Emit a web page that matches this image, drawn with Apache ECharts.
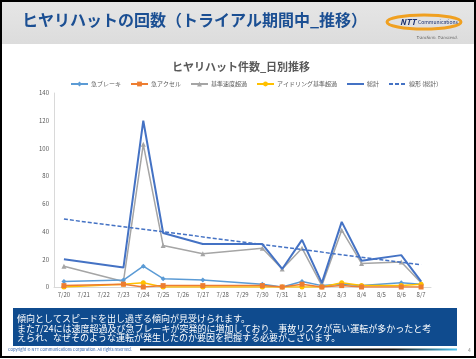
<!DOCTYPE html>
<html><head><meta charset="utf-8">
<script src="https://cdn.jsdelivr.net/npm/echarts@6/dist/echarts.min.js"></script>
<style>html,body{margin:0;padding:0;background:#fff}#c{width:476px;height:359px}</style>
</head><body><div id="c"></div>
<script>
const categories = ['7/20','7/21','7/22','7/23','7/24','7/25','7/26','7/27','7/28','7/29','7/30','7/31','8/1','8/2','8/3','8/4','8/5','8/6','8/7'];
const suddenBrake = [4,null,null,5,15,6,null,5,null,null,2,0,4,1,2,1,null,3,2];
const suddenAccel = [1,null,null,2,0,1,null,1,null,null,1,0,2,0,1,0,null,0,0];
const overSpeed   = [15,null,null,4,103,30,null,24,null,null,28,13,28,1,41,17,null,18,3];
const idling      = [0,null,null,2,3,0,null,0,null,null,0,0,0,0,3,1,null,1,2];
const total       = [20,null,null,14,120,39,null,31,null,null,31,13,34,3,47,19,null,23,4];
const trendTotal  = [49,null,null,null,null,null,null,null,null,null,null,null,null,null,null,null,null,null,16];
const yTicks = [0,20,40,60,80,100,120,140];
const seriesNames = ['急ブレーキ','急アクセル','基準速度超過','アイドリング基準超過','総計','線形 (総計)'];
const chartTitle = 'ヒヤリハット件数_日別推移';
const slideTitle = 'ヒヤリハットの回数（トライアル期間中_推移）';
const bodyLines = [
  '傾向としてスピードを出し過ぎる傾向が見受けられます。',
  'また7/24には速度超過及び急ブレーキが突発的に増加しており、事故リスクが高い運転が多かったと考',
  'えられ、なぜそのような運転が発生したのか要因を把握する必要がございます。'
];

const FONT = '"Noto Sans CJK JP","Noto Sans",sans-serif';
const chart = echarts.init(document.getElementById('c'), null, {renderer:'canvas'});

function lineSeries(name, data, color, symbol, width, z){
  return {name, type:'line', data, connectNulls:true, symbol, symbolSize:5, z:z||2,
    lineStyle:{color, width:width||1.5}, itemStyle:{color}, emphasis:{disabled:true}};
}

const graphics = [
  {type:'rect', shape:{x:1,y:1,width:474,height:43}, style:{fill:new echarts.graphic.LinearGradient(0,0,0,1,[{offset:0,color:'#e6e6e6'},{offset:1,color:'#dcdcdc'}])}, z:-1},
  {type:'text', left:22, top:12, style:{text:slideTitle, fill:'#1b4f93', font:'bold 16px '+FONT}},
  {type:'ellipse', shape:{cx:424,cy:22,rx:37,ry:7}, style:{fill:'none', stroke:'#f0a020', lineWidth:3}},
  {type:'text', x:400, y:22, style:{text:'NTT', fill:'#1a2f6e', font:'italic bold 8px '+FONT, verticalAlign:'middle'}},
  {type:'text', x:418, y:22, style:{text:'Communications', fill:'#1a2f6e', font:'5px '+FONT, verticalAlign:'middle'}},
  {type:'text', x:416, y:37, style:{text:'Transform. Transcend.', fill:'#666', font:'italic 4px '+FONT, verticalAlign:'middle'}},
  {type:'rect', shape:{x:13,y:308,width:444,height:38}, style:{fill:'#0f4b8e'}},
  {type:'text', x:17, y:319, style:{text:bodyLines[0], fill:'#fff', font:'9px '+FONT, verticalAlign:'middle'}},
  {type:'text', x:17, y:328.5, style:{text:bodyLines[1], fill:'#fff', font:'9px '+FONT, verticalAlign:'middle'}},
  {type:'text', x:17, y:338, style:{text:bodyLines[2], fill:'#fff', font:'9px '+FONT, verticalAlign:'middle'}},
  {type:'text', x:8, y:349.5, style:{text:'Copyright © NTT Communications Corporation. All rights reserved.', fill:'#2a5ca8', font:'4px '+FONT, verticalAlign:'middle'}},
  {type:'rect', shape:{x:140,y:348.5,width:317,height:2}, style:{fill:new echarts.graphic.LinearGradient(0,0,1,0,[{offset:0,color:'#000'},{offset:0.8,color:'#111'},{offset:1,color:'#4cc4f0'}])}},
  {type:'text', x:468, y:350, style:{text:'4', fill:'#888', font:'5px '+FONT, verticalAlign:'middle'}},
  {type:'rect', shape:{x:1,y:1,width:474,height:356}, style:{fill:'none', stroke:'#000', lineWidth:2}, z:100}
];

chart.setOption({
  animation:false,
  textStyle:{fontFamily:FONT},
  title:{text:chartTitle, left:236, top:56, textAlign:'center',
    textStyle:{fontSize:11, fontWeight:'bold', color:'#595959', fontFamily:FONT}},
  legend:{data:seriesNames.slice(0,5).concat([{name:seriesNames[5], itemStyle:{opacity:0}}]),
    top:76, left:65, itemWidth:17, itemHeight:6, itemGap:9,
    textStyle:{fontSize:6, color:'#595959', fontFamily:FONT, padding:[0,0,0,-2]}},
  grid:{left:54, right:45, top:93, bottom:72},
  xAxis:{type:'category', data:categories, boundaryGap:true,
    axisLine:{lineStyle:{color:'#d9d9d9'}}, axisTick:{show:false},
    axisLabel:{fontSize:6, color:'#595959', margin:5, interval:0}},
  yAxis:{type:'value', min:0, max:140, interval:20,
    axisLine:{show:true, lineStyle:{color:'#d9d9d9'}}, axisTick:{show:false},
    splitLine:{show:false},
    axisLabel:{fontSize:6, color:'#595959', margin:5,
      formatter:v=>yTicks.includes(v)?String(v):''}},
  series:[
    lineSeries(seriesNames[0], suddenBrake, '#5b9bd5', 'diamond', 1.5, 3),
    lineSeries(seriesNames[1], suddenAccel, '#ed7d31', 'rect', 1.5, 4),
    lineSeries(seriesNames[2], overSpeed, '#a5a5a5', 'triangle', 1.5, 2),
    lineSeries(seriesNames[3], idling, '#ffc000', 'circle', 1.5, 3),
    lineSeries(seriesNames[4], total, '#4472c4', 'path://M0,0L10,10M10,0L0,10', 2, 5),
    {name:seriesNames[5], type:'line', data:trendTotal, connectNulls:true, symbol:'none', z:6,
      lineStyle:{color:'#4472c4', width:1.5, type:[4,2]}, itemStyle:{color:'#4472c4'}}
  ],
  graphic:graphics
});
</script></body></html>
